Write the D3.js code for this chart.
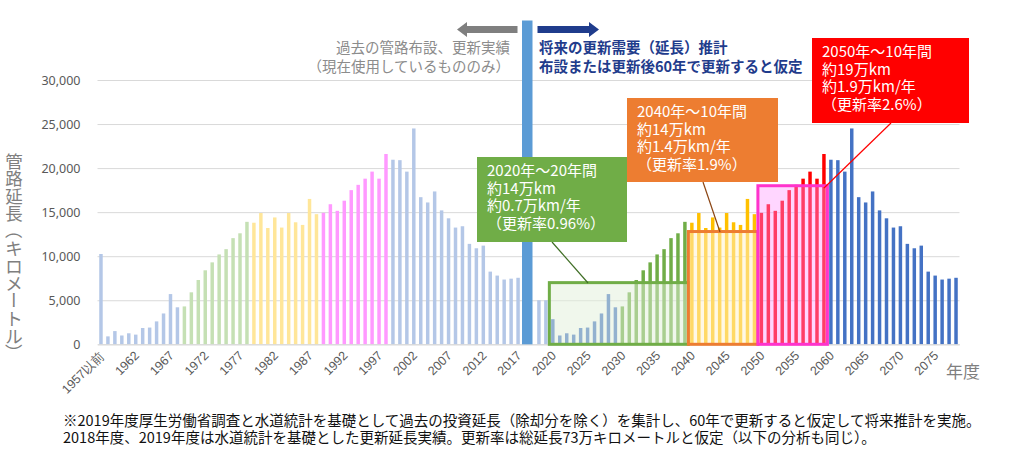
<!DOCTYPE html>
<html><head><meta charset="utf-8">
<script src="https://cdn.jsdelivr.net/npm/d3@7"></script>
<style>
body{margin:0;background:#fff;}
svg{display:block;font-family:"Noto Sans CJK JP","Noto Sans",sans-serif;}
</style></head><body>
<svg id="c" width="1025" height="457"></svg>
<script>
// ---------- data ----------
const pastCategories = ["1957以前"].concat(d3.range(1958, 2020).map(String)); // 1957以前..2019
const futureCategories = d3.range(2018, 2079).map(String);                  // 2018..2078
// past installation length (km) 1957以前..2017 (2018, 2019 hidden under separator)
const pastValues = [10250, 900, 1500, 1000, 1250, 1100, 1850, 1900, 2600, 3500,
  5700, 4200, 4300, 5900, 7300, 8400, 9300, 10200, 10800, 12050,
  12600, 13900, 13800, 14900, 13200, 14400, 13250, 14900, 13850, 13550,
  16500, 14770, 14920, 15900, 15150, 16300, 17500, 18100, 18800, 19600,
  18800, 21600, 20950, 20900, 19600, 24500, 16700, 16100, 17350, 15200,
  14300, 13250, 13400, 11400, 10900, 11200, 8250, 7800, 7350, 7450, 7550, null, null];
// future renewal demand 2018..2078
const futureValues = [5000, 5000, 2850,
  1000, 1250, 1100, 1850, 1900, 2600, 3500, 5700, 4200,
  4300, 5900, 7300, 8400, 9300, 10200, 10800, 12050, 12600, 13900,
  13800, 14900, 13200, 14400, 13250, 14900, 13850, 13550, 16500, 14770,
  14920, 15900, 15150, 16300, 17500, 18100, 18800, 19600, 18800, 21600,
  20950, 20900, 19600, 24500, 16700, 16100, 17350, 15200, 14300, 13250,
  13400, 11400, 10900, 11200, 8250, 7800, 7350, 7450, 7550];
const yTicks = [0, 5000, 10000, 15000, 20000, 25000, 30000];
// renewal period boxes
const boxFrom = ["2020", "2040", "2050"];
const boxTo = ["2039", "2049", "2059"];
const boxLevel = [7000, 12800, 18000];
const calloutTexts = [
  ["2020年～20年間", "約14万km", "約0.7万km/年", "（更新率0.96%）"],
  ["2040年～10年間", "約14万km", "約1.4万km/年", "（更新率1.9%）"],
  ["2050年～10年間", "約19万km", "約1.9万km/年", "（更新率2.6%）"]
];
const pastNote = ["過去の管路布設、更新実績", "（現在使用しているもののみ）"];
const futureNote = ["将来の更新需要（延長）推計", "布設または更新後60年で更新すると仮定"];
const footnotes = [
  "※2019年度厚生労働省調査と水道統計を基礎として過去の投資延長（除却分を除く）を集計し、60年で更新すると仮定して将来推計を実施。",
  "2018年度、2019年度は水道統計を基礎とした更新延長実績。更新率は総延長73万キロメートルと仮定（以下の分析も同じ）。"
];
const yTitle = "管路延長（キロメートル）";
const xTitle = "年度";

// ---------- styles ----------
function pastColor(label) {
  const yr = label === "1957以前" ? 1957 : +label;
  if (yr <= 1968) return "#B4C7E7";
  if (yr <= 1978) return "#C5E0B4";
  if (yr <= 1988) return "#FFE699";
  if (yr <= 1998) return "#FF99FF";
  return "#B4C7E7";
}
function futureColor(label) {
  const yr = +label;
  if (yr <= 2019) return "#B4C7E7";
  if (yr <= 2029) return "#4472C4";
  if (yr <= 2039) return "#70AD47";
  if (yr <= 2049) return "#FFC000";
  if (yr <= 2059) return "#FF0000";
  return "#4472C4";
}
const boxStroke = ["#70AD47", "#ED7D31", "#FF33CC"];
const boxFill = ["rgba(226,240,217,0.5)", "rgba(255,242,204,0.5)", "rgba(255,153,255,0.4)"];
const calloutFill = ["#70AD47", "#ED7D31", "#FF0000"];
const calloutRect = [[477, 157, 150, 85], [627, 98, 151, 84], [812, 38, 157, 85]];
const connectors = [[552, 242, 588, 283, "#3F6E25"], [703, 182, 720, 232, "#8B4513"], [891, 123, 824, 188, "#FF0000"]];

// ---------- build ----------
const svg = d3.select("#c");
const nPast = pastCategories.length, nAll = nPast + futureCategories.length;
const slots = d3.range(nAll);
const slotLabel = i => i < nPast ? pastCategories[i] : futureCategories[i - nPast];
const futureSlot = lab => nPast + futureCategories.indexOf(lab);

const x = d3.scaleBand().domain(slots).range([97.5, 959.5]).paddingInner(0.5).paddingOuter(0.25);
const y = d3.scaleLinear().domain([0, 30000]).range([344.3, 80]);
const step = x.step();

// gridlines + y labels
const yAxis = d3.axisLeft(y).tickValues(yTicks).tickFormat(d3.format(",")).tickSize(-(959.5 - 97.5)).tickPadding(17);
const gy = svg.append("g").attr("transform", "translate(97.5,0)").call(yAxis);
gy.select(".domain").remove();
gy.selectAll(".tick line").attr("stroke", "#D9D9D9").attr("stroke-width", 1);
gy.selectAll(".tick text").attr("fill", "#595959").attr("font-size", 12.5)
  .attr("font-family", "'Noto Sans','Noto Sans CJK JP',sans-serif");

// bars
const pastData = pastValues.map((v, i) => ({ i, v, c: pastColor(pastCategories[i]) })).filter(d => d.v != null);
const futData = futureValues.map((v, j) => ({ i: nPast + j, v, c: futureColor(futureCategories[j]) }));
svg.append("g").selectAll("rect").data(pastData.concat(futData)).join("rect")
  .attr("x", d => x(d.i)).attr("width", x.bandwidth())
  .attr("y", d => y(d.v)).attr("height", d => y(0) - y(d.v))
  .attr("fill", d => d.c);

// x axis
const xAxis = d3.axisBottom(x).tickValues(d3.range(0, nAll, 5)).tickFormat(slotLabel).tickSize(0).tickPadding(0);
const gx = svg.append("g").attr("transform", "translate(0,344.3)").call(xAxis);
gx.select(".domain").attr("stroke", "#D9D9D9");
gx.selectAll(".tick text").attr("fill", "#595959").attr("font-size", 12.5)
  .attr("text-anchor", "end").attr("y", 0).attr("dy", "0.35em")
  .attr("transform", "translate(1,9) rotate(-45)");
svg.append("text").attr("x", 946).attr("y", 372).attr("dy", "0.35em")
  .attr("font-size", 17).attr("fill", "#7F7F7F").text(xTitle);

// period boxes
boxFrom.forEach((f, k) => {
  const s0 = futureSlot(f), s1 = futureSlot(boxTo[k]);
  const x0 = x(s0) - step * 0.25, x1 = x(s1) + x.bandwidth() + step * 0.25;
  svg.append("rect").attr("x", x0).attr("y", y(boxLevel[k]))
    .attr("width", x1 - x0).attr("height", y(0) - y(boxLevel[k]))
    .attr("fill", boxFill[k]).attr("stroke", boxStroke[k]).attr("stroke-width", 3);
});

// separator
svg.append("rect").attr("x", 522).attr("y", 20.5).attr("width", 10.5).attr("height", 344.3 - 20.5).attr("fill", "#5B9BD5");

// arrows
function arrow(x0, x1, yc, color) {
  const dir = Math.sign(x1 - x0), hl = 10, bh = 3.6, hh = 7.5;
  const xb = x1 - dir * hl;
  svg.append("path").attr("fill", color)
    .attr("d", `M${x0},${yc - bh}L${xb},${yc - bh}L${xb},${yc - hh}L${x1},${yc}L${xb},${yc + hh}L${xb},${yc + bh}L${x0},${yc + bh}Z`);
}
arrow(517.5, 457, 29.5, "#7F7F7F");
arrow(537.5, 599, 29.5, "#1F3C8C");

// top notes
pastNote.forEach((t, k) => svg.append("text").attr("x", 510).attr("y", 48 + k * 19).attr("dy", "0.35em")
  .attr("text-anchor", "end").attr("font-size", 14.5).attr("fill", "#8C8C8C").text(t));
futureNote.forEach((t, k) => svg.append("text").attr("x", 539).attr("y", 48 + k * 19).attr("dy", "0.35em")
  .attr("font-size", 14.5).attr("font-weight", "bold").attr("fill", "#1F3C8C").text(t));

// callouts
calloutTexts.forEach((lines, k) => {
  const [cx, cy, cw, ch] = calloutRect[k];
  const cn = connectors[k];
  svg.append("line").attr("x1", cn[0]).attr("y1", cn[1]).attr("x2", cn[2]).attr("y2", cn[3])
    .attr("stroke", cn[4]).attr("stroke-width", 1.2);
  svg.append("rect").attr("x", cx).attr("y", cy).attr("width", cw).attr("height", ch).attr("fill", calloutFill[k]);
  lines.forEach((t, j) => svg.append("text").attr("x", cx + 10).attr("y", cy + 14 + j * 17.6).attr("dy", "0.35em")
    .attr("font-size", 15).attr("fill", "#fff").text(t));
});

// y title (vertical)
Array.from(yTitle).forEach((ch, k) => {
  const t = svg.append("text").attr("x", 0).attr("y", 0).attr("text-anchor", "middle")
    .attr("dominant-baseline", "central").attr("font-size", 17.5).attr("fill", "#7F7F7F").text(ch);
  const rot = (ch === "（" || ch === "）" || ch === "ー") ? 90 : 0;
  t.attr("transform", `translate(14,${160 + k * 17.5}) rotate(${rot})`);
});

// footnotes
footnotes.forEach((t, k) => svg.append("text").attr("x", 63).attr("y", 421 + k * 17).attr("dy", "0.35em")
  .attr("font-size", 14.5).attr("fill", "#111").text(t));
</script>
</body></html>
